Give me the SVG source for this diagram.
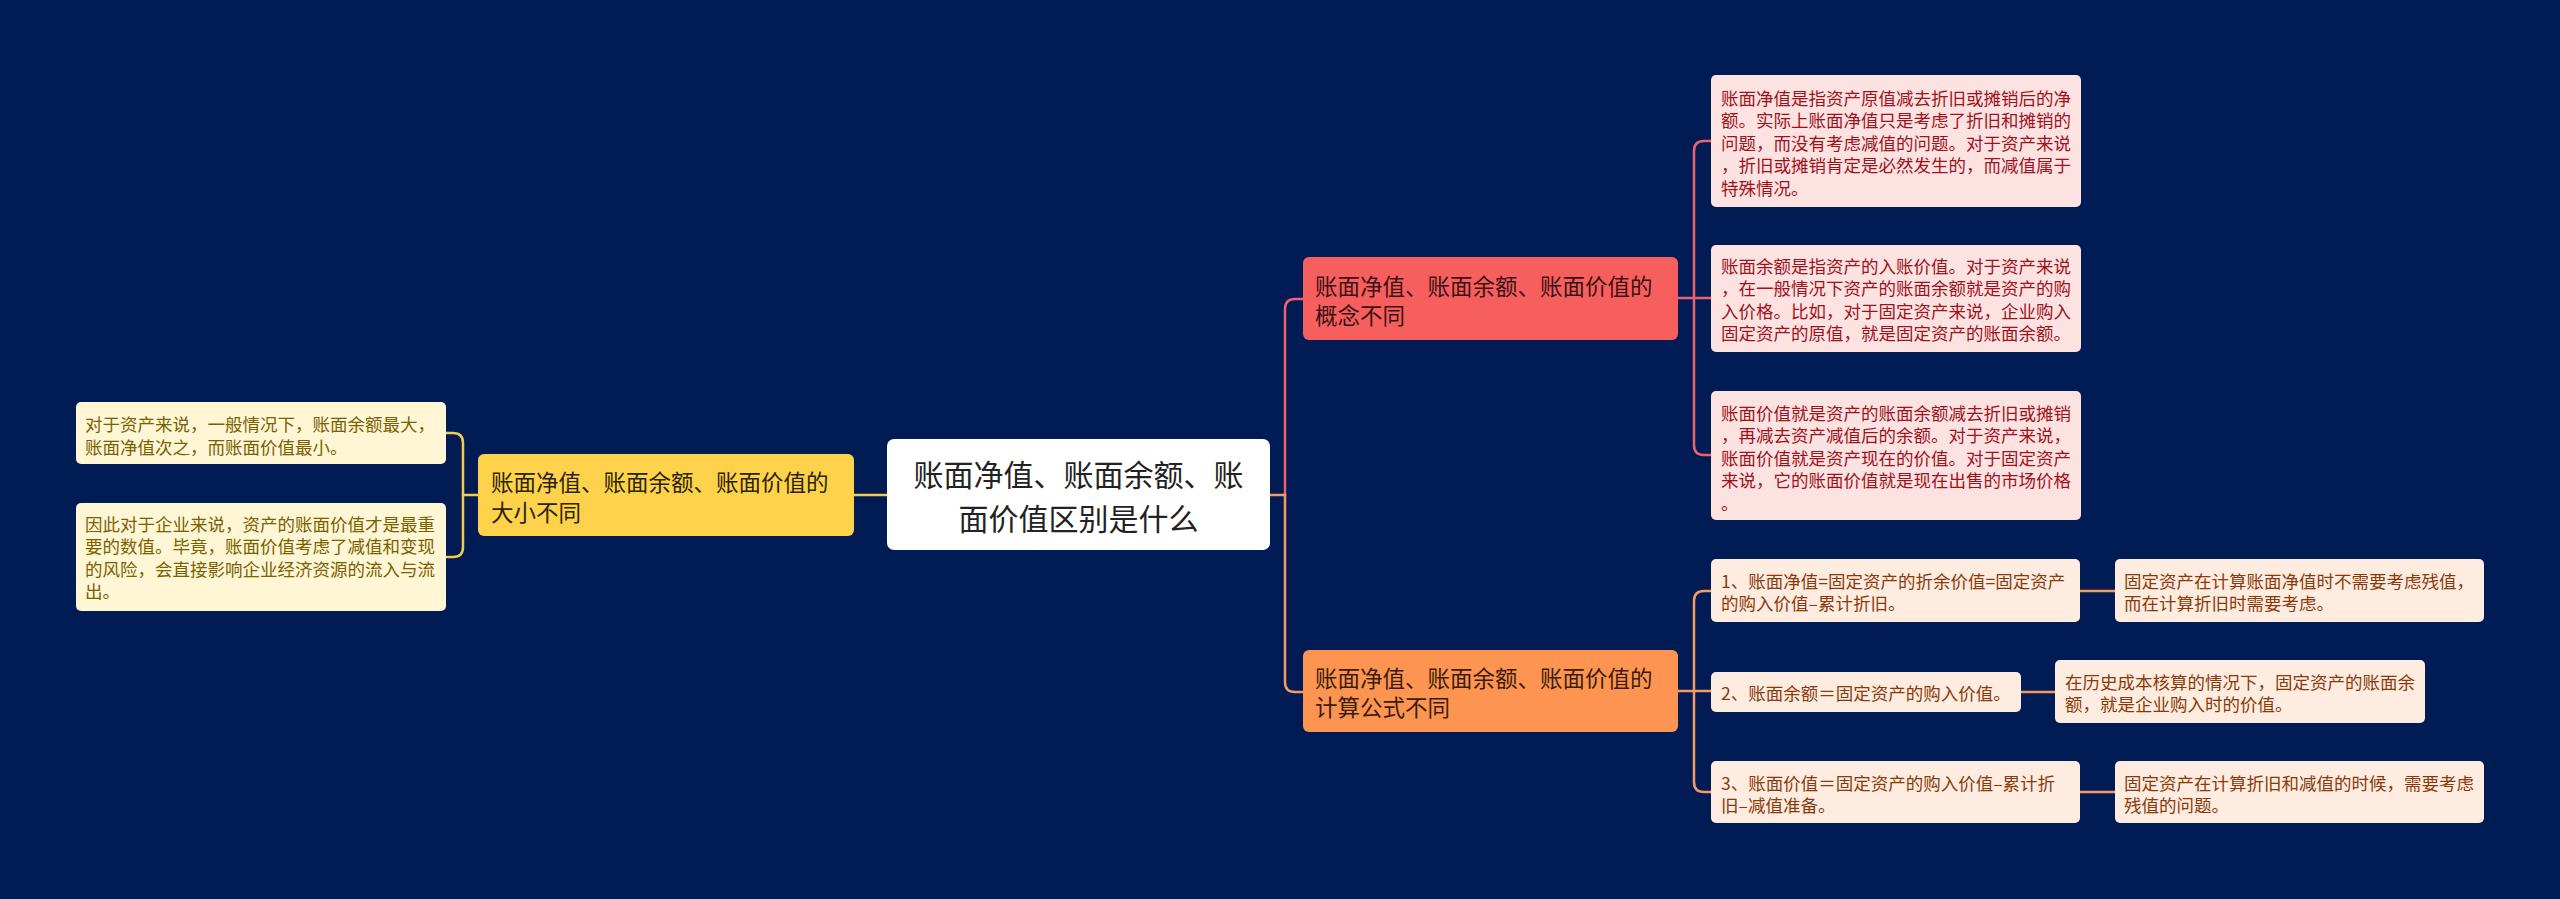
<svg xmlns="http://www.w3.org/2000/svg" width="2560" height="899" viewBox="0 0 2560 899">
<style>
text{font-family:"Noto Sans CJK SC","Noto Sans",sans-serif;dominant-baseline:central}
.lines path{fill:none;stroke-width:2.5;stroke-linecap:round}
.c{font-size:30px;fill:#222;text-anchor:middle}
.l1{font-size:22.5px}
.lf{font-size:17.5px}
.yl{stroke:#f2cc4a}.rl{stroke:#ec6270}.ol{stroke:#f59a62}
.yn{fill:#fed34b}.rn{fill:#f75f5f}.on{fill:#fe9451}
.yf{fill:#fff6d6}.rf{fill:#fde2e2}.of{fill:#ffece0}
.ynt{fill:#2b2400}.rnt{fill:#3a1212}.ont{fill:#3a1d0a}
.yft{fill:#7a6100}.rft{fill:#a0121b}.oft{fill:#8a3a0a}
</style>
<rect width="2560" height="899" fill="#011b55"/>
<g class="lines">
<path class="yl" d="M887,495 H854"/>
<path class="yl" d="M478,495 H463"/>
<path class="yl" d="M446,433 H453 Q463,433 463,443 V547 Q463,557 453,557 H446"/>
<path class="rl" d="M1285,495 V309 Q1285,299 1295,299 H1303"/>
<path class="ol" d="M1270,495 H1285 V682 Q1285,692 1295,692 H1303"/>
<path class="rl" d="M1678,298 H1711"/>
<path class="rl" d="M1711,141 H1704 Q1694,141 1694,151 V445 Q1694,455 1704,455 H1711"/>
<path class="ol" d="M1678,691 H1711"/>
<path class="ol" d="M1711,591 H1704 Q1694,591 1694,601 V782 Q1694,792 1704,792 H1711"/>
<path class="ol" d="M2080,591 H2115"/>
<path class="ol" d="M2021,692 H2055"/>
<path class="ol" d="M2080,792 H2115"/>
</g>
<g id="center">
<rect x="887" y="439" width="383" height="111" rx="7" fill="#ffffff"/>
<text class="c" x="1078.5" y="473">账面净值、账面余额、账</text>
<text class="c" x="1078.5" y="517">面价值区别是什么</text>
</g>
<g id="size">
<rect class="yn" x="478" y="454" width="376" height="82" rx="6"/>
<text class="l1 ynt" x="491" y="481">账面净值、账面余额、账面价值的</text>
<text class="l1 ynt" x="491" y="511">大小不同</text>
</g>
<g id="size-a">
<rect class="yf" x="76" y="402" width="370" height="62" rx="5"/>
<text class="lf yft" x="85" y="423">对于资产来说，一般情况下，账面余额最大，</text>
<text class="lf yft" x="85" y="446">账面净值次之，而账面价值最小。</text>
</g>
<g id="size-b">
<rect class="yf" x="76" y="503" width="370" height="108" rx="5"/>
<text class="lf yft" x="85" y="523">因此对于企业来说，资产的账面价值才是最重</text>
<text class="lf yft" x="85" y="545.5">要的数值。毕竟，账面价值考虑了减值和变现</text>
<text class="lf yft" x="85" y="568">的风险，会直接影响企业经济资源的流入与流</text>
<text class="lf yft" x="85" y="590.5">出。</text>
</g>
<g id="concept">
<rect class="rn" x="1303" y="257" width="375" height="83" rx="6"/>
<text class="l1 rnt" x="1315" y="285">账面净值、账面余额、账面价值的</text>
<text class="l1 rnt" x="1315" y="314">概念不同</text>
</g>
<g id="concept-a">
<rect class="rf" x="1711" y="75" width="370" height="132" rx="5"/>
<text class="lf rft" x="1721" y="97">账面净值是指资产原值减去折旧或摊销后的净</text>
<text class="lf rft" x="1721" y="119.5">额。实际上账面净值只是考虑了折旧和摊销的</text>
<text class="lf rft" x="1721" y="142">问题，而没有考虑减值的问题。对于资产来说</text>
<text class="lf rft" x="1721" y="164.5">，折旧或摊销肯定是必然发生的，而减值属于</text>
<text class="lf rft" x="1721" y="187">特殊情况。</text>
</g>
<g id="concept-b">
<rect class="rf" x="1711" y="245" width="370" height="107" rx="5"/>
<text class="lf rft" x="1721" y="265">账面余额是指资产的入账价值。对于资产来说</text>
<text class="lf rft" x="1721" y="287.5">，在一般情况下资产的账面余额就是资产的购</text>
<text class="lf rft" x="1721" y="310">入价格。比如，对于固定资产来说，企业购入</text>
<text class="lf rft" x="1721" y="332.5">固定资产的原值，就是固定资产的账面余额。</text>
</g>
<g id="concept-c">
<rect class="rf" x="1711" y="391" width="370" height="129" rx="5"/>
<text class="lf rft" x="1721" y="412">账面价值就是资产的账面余额减去折旧或摊销</text>
<text class="lf rft" x="1721" y="434.5">，再减去资产减值后的余额。对于资产来说，</text>
<text class="lf rft" x="1721" y="457">账面价值就是资产现在的价值。对于固定资产</text>
<text class="lf rft" x="1721" y="479.5">来说，它的账面价值就是现在出售的市场价格</text>
<text class="lf rft" x="1721" y="502">。</text>
</g>
<g id="formula">
<rect class="on" x="1303" y="650" width="375" height="82" rx="6"/>
<text class="l1 ont" x="1315" y="677">账面净值、账面余额、账面价值的</text>
<text class="l1 ont" x="1315" y="706">计算公式不同</text>
</g>
<g id="formula-1">
<rect class="of" x="1711" y="559" width="369" height="63" rx="5"/>
<text class="lf oft" x="1721" y="580">1、账面净值=固定资产的折余价值=固定资产</text>
<text class="lf oft" x="1721" y="602.5">的购入价值–累计折旧。</text>
</g>
<g id="formula-1-note">
<rect class="of" x="2115" y="559" width="369" height="63" rx="5"/>
<text class="lf oft" x="2124" y="580">固定资产在计算账面净值时不需要考虑残值，</text>
<text class="lf oft" x="2124" y="602.5">而在计算折旧时需要考虑。</text>
</g>
<g id="formula-2">
<rect class="of" x="1711" y="672" width="310" height="40" rx="5"/>
<text class="lf oft" x="1721" y="692">2、账面余额＝固定资产的购入价值。</text>
</g>
<g id="formula-2-note">
<rect class="of" x="2055" y="660" width="370" height="63" rx="5"/>
<text class="lf oft" x="2065" y="681">在历史成本核算的情况下，固定资产的账面余</text>
<text class="lf oft" x="2065" y="703.5">额，就是企业购入时的价值。</text>
</g>
<g id="formula-3">
<rect class="of" x="1711" y="761" width="369" height="62" rx="5"/>
<text class="lf oft" x="1721" y="782">3、账面价值＝固定资产的购入价值–累计折</text>
<text class="lf oft" x="1721" y="804.5">旧–减值准备。</text>
</g>
<g id="formula-3-note">
<rect class="of" x="2115" y="761" width="369" height="62" rx="5"/>
<text class="lf oft" x="2124" y="782">固定资产在计算折旧和减值的时候，需要考虑</text>
<text class="lf oft" x="2124" y="804.5">残值的问题。</text>
</g>
</svg>
